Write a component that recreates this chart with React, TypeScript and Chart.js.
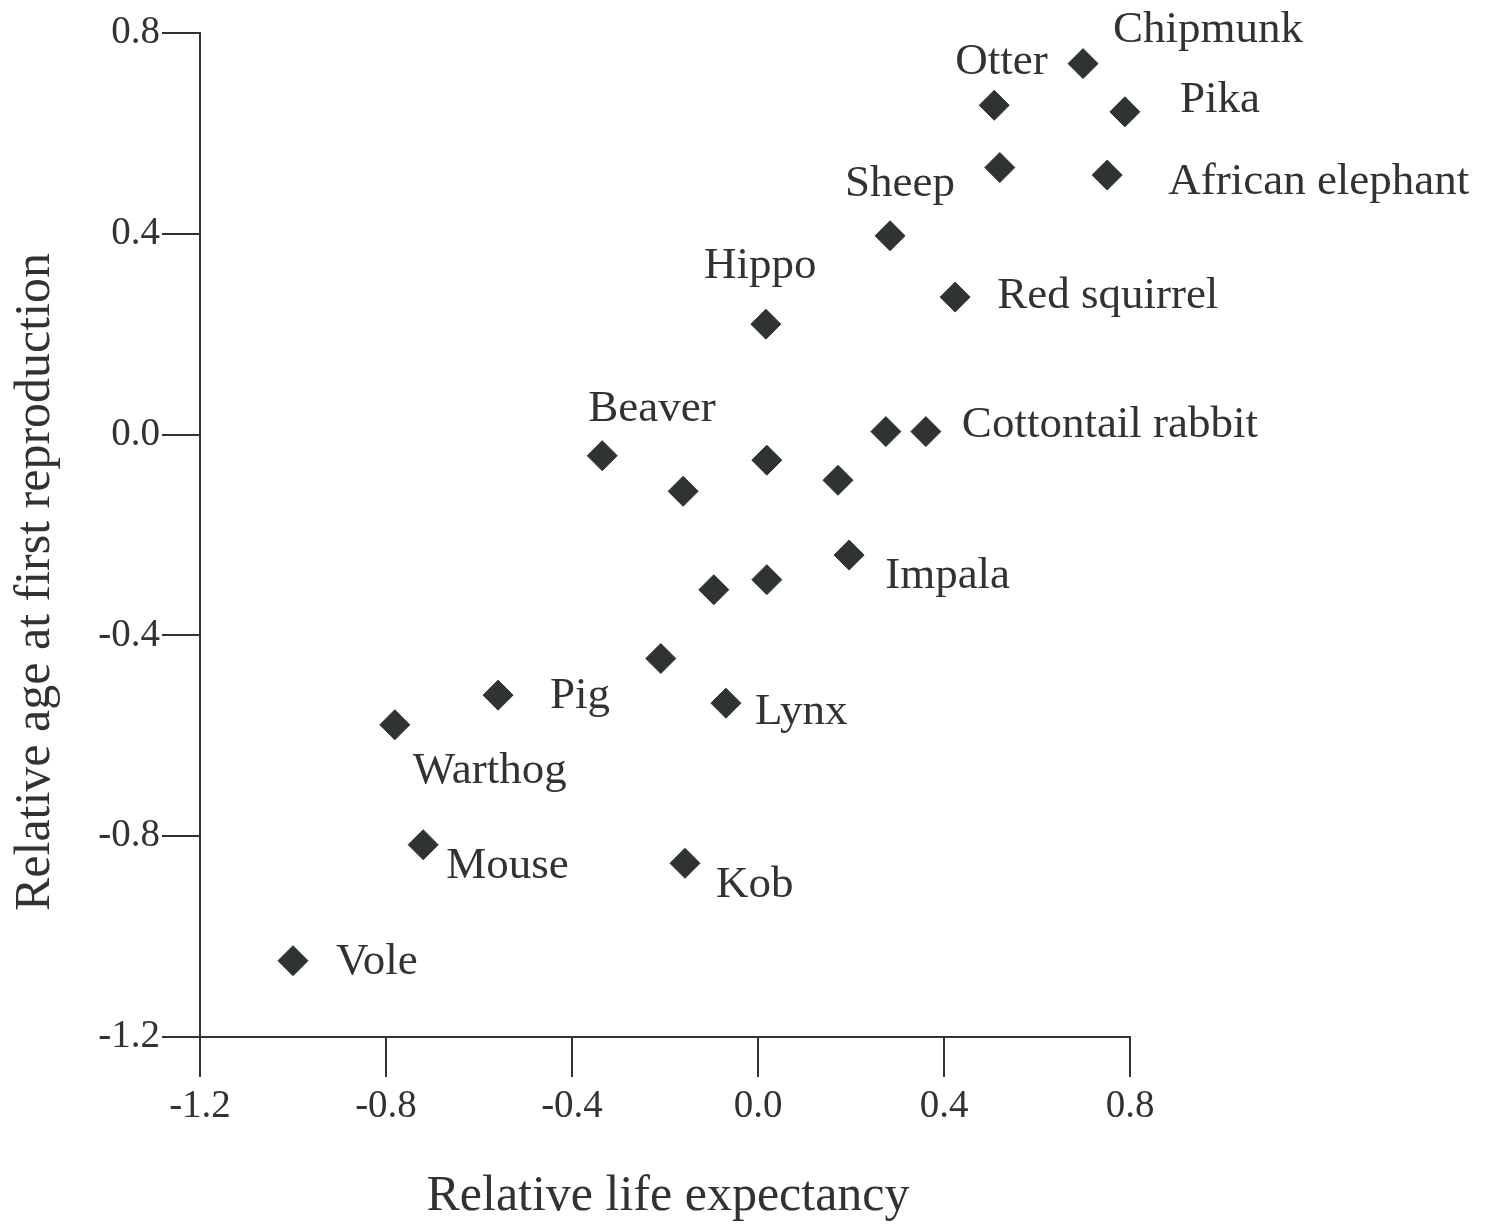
import React, { useEffect, useRef } from 'react';
import { Chart, registerables } from 'chart.js';

Chart.register(...registerables);

// ---- Data ----
const SPECIES: string[] = [
  'Chipmunk', 'Otter', 'Pika', '', 'African elephant', 'Sheep', 'Red squirrel', 'Hippo',
  'Cottontail rabbit', '', 'Beaver', '', '', '', 'Impala', '', '', '',
  'Pig', 'Lynx', 'Warthog', 'Mouse', 'Kob', 'Vole',
];
const LIFE_EXPECTANCY: number[] = [
  0.699, 0.508, 0.789, 0.520, 0.751, 0.284, 0.424, 0.017,
  0.361, 0.275, -0.335, 0.019, -0.161, 0.172, 0.196, 0.019, -0.095, -0.209,
  -0.559, -0.069, -0.781, -0.720, -0.157, -1.0,
];
const AGE_AT_FIRST_REPRODUCTION: number[] = [
  0.739, 0.656, 0.643, 0.532, 0.517, 0.396, 0.274, 0.22,
  0.006, 0.006, -0.042, -0.051, -0.113, -0.091, -0.240, -0.289, -0.309, -0.446,
  -0.519, -0.535, -0.578, -0.817, -0.854, -1.048,
];
const X_TICKS: number[] = [-1.2, -0.8, -0.4, 0.0, 0.4, 0.8];
const Y_TICKS: number[] = [-1.2, -0.8, -0.4, 0.0, 0.4, 0.8];
const X_TITLE = 'Relative life expectancy';
const Y_TITLE = 'Relative age at first reproduction';

// ---- Label placement (pixel offsets from each marker) ----
const LABEL_OFFSETS: [number, number][] = [
  [30, -33], [-39, -43], [55, -12], [0, 0], [61, 7], [-45, -52], [42, -1], [-62, -58],
  [36, -6], [0, 0], [-14, -46], [0, 0], [0, 0], [0, 0], [36, 21], [0, 0], [0, 0], [0, 0],
  [52, 1], [29, 9], [18, 46], [23, 21], [31, 22], [43, 1],
];

const INK = '#2f3431';
const SERIF = '"Liberation Serif", "DejaVu Serif", serif';

const labelPlugin = {
  id: 'speciesLabels',
  afterDatasetsDraw(chart: any) {
    const meta = chart.getDatasetMeta(0);
    const ctx = chart.ctx as CanvasRenderingContext2D;
    ctx.save();
    ctx.font = `45px ${SERIF}`;
    ctx.fillStyle = INK;
    ctx.textAlign = 'left';
    ctx.textBaseline = 'middle';
    meta.data.forEach((el: any, i: number) => {
      const name = SPECIES[i];
      if (!name) return;
      const [dx, dy] = LABEL_OFFSETS[i];
      ctx.fillText(name, el.x + dx, el.y + dy);
    });
    ctx.restore();
  },
};

// Axis titles, placed like the scanned figure (y title sits a bit below the axis centre)
const axisTitlePlugin = {
  id: 'axisTitles',
  afterDraw(chart: any) {
    const ctx = chart.ctx as CanvasRenderingContext2D;
    const area = chart.chartArea;
    ctx.save();
    ctx.font = `50px ${SERIF}`;
    ctx.fillStyle = INK;
    ctx.textAlign = 'center';
    ctx.textBaseline = 'middle';
    ctx.fillText(X_TITLE, (area.left + area.right) / 2 + 3, chart.height - 30);
    ctx.translate(36, (area.top + area.bottom) / 2 + 47);
    ctx.rotate(-Math.PI / 2);
    ctx.fillText(Y_TITLE, 0, 0);
    ctx.restore();
  },
};

export default function App() {
  const ref = useRef<HTMLCanvasElement | null>(null);

  useEffect(() => {
    document.body.style.margin = '0';
    document.body.style.overflow = 'hidden';
    const canvas = ref.current;
    if (!canvas) return;
    const points = LIFE_EXPECTANCY.map((x, i) => ({ x, y: AGE_AT_FIRST_REPRODUCTION[i] }));
    const chart = new Chart(canvas, {
      type: 'scatter',
      data: {
        datasets: [
          {
            data: points,
            pointStyle: 'rectRot',
            pointRadius: 15,
            pointBackgroundColor: INK,
            pointBorderColor: INK,
            pointBorderWidth: 1,
            clip: false,
          },
        ],
      },
      options: {
        animation: false,
        responsive: false,
        devicePixelRatio: 1,
        events: [],
        layout: { padding: { top: 33, right: 359, left: 0, bottom: 0 } },
        plugins: {
          legend: { display: false },
          tooltip: { enabled: false },
        },
        scales: {
          x: {
            type: 'linear',
            min: -1.2,
            max: 0.8,
            afterBuildTicks: (scale: any) => {
              scale.ticks = X_TICKS.map((v) => ({ value: v }));
            },
            afterFit: (scale: any) => {
              scale.height = 190;
            },
            ticks: {
              callback: (v: any) => Number(v).toFixed(1),
              font: { family: SERIF, size: 39 },
              color: INK,
              padding: 6,
              maxRotation: 0,
              autoSkip: false,
            },
            grid: {
              display: true,
              drawOnChartArea: false,
              drawTicks: true,
              tickLength: 40,
              color: INK,
              lineWidth: 2,
            },
            border: { display: true, color: INK, width: 2 },
            title: { display: false, text: X_TITLE },
          },
          y: {
            type: 'linear',
            min: -1.2,
            max: 0.8,
            afterBuildTicks: (scale: any) => {
              scale.ticks = Y_TICKS.map((v) => ({ value: v }));
            },
            afterFit: (scale: any) => {
              scale.width = 200;
            },
            ticks: {
              callback: (v: any) => Number(v).toFixed(1),
              font: { family: SERIF, size: 39 },
              color: INK,
              padding: 2,
              autoSkip: false,
            },
            grid: {
              display: true,
              drawOnChartArea: false,
              drawTicks: true,
              tickLength: 38,
              color: INK,
              lineWidth: 2,
            },
            border: { display: true, color: INK, width: 2 },
            title: { display: false, text: Y_TITLE },
          },
        },
      },
      plugins: [labelPlugin, axisTitlePlugin],
    });
    return () => chart.destroy();
  }, []);

  return (
    <div style={{ width: 1489, height: 1227, background: '#ffffff' }}>
      <canvas ref={ref} width={1489} height={1227} style={{ display: 'block' }} />
    </div>
  );
}
